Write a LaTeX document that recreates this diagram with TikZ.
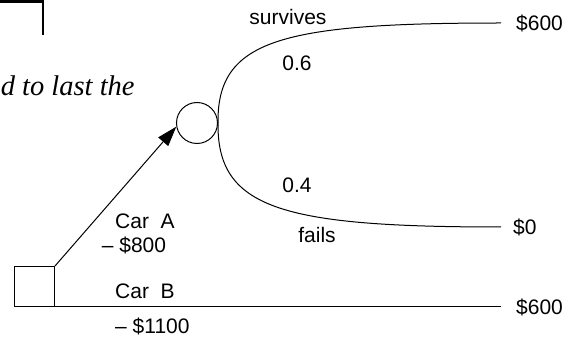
\documentclass[tikz,border=0pt]{standalone}
\usepackage{fontspec}
\setmainfont{Liberation Serif}
\newfontfamily\arialf{Liberation Sans}
\usetikzlibrary{arrows.meta}
\tikzset{
  lbl/.style={inner sep=0pt, font=\arialf\fontsize{21}{25}\selectfont},
  thin line/.style={line width=1pt},
  frame/.style={line width=2.7pt},
}
\begin{document}
\begin{tikzpicture}[x=1pt,y=-1pt]
\useasboundingbox (0,0) rectangle (574,339);
% cropped frame and text from the page
\draw[frame] (-3,1.3) -- (43,1.3) -- (43,35);
\node[inner sep=0pt, anchor=base west, font=\fontsize{28.5}{33}\selectfont\itshape] (txt) at (0.6,95.7) {d to last the};
% decision and chance nodes
\node[draw, thin line, minimum size=40pt, inner sep=0pt, anchor=south west] (sq) at (14,307) {};
\node[draw, thin line, circle, minimum size=41pt, inner sep=0pt] (c) at (197,123) {};
\coordinate (e1) at (501,23);
\coordinate (e2) at (501,227);
\coordinate (e3) at (501,307);
% connectors
\draw[thin line, -{Triangle[length=20pt,width=13pt]}] (sq.north east) -- (c.190);
\draw[thin line] (c.east) .. controls (217,40) and (280,23) .. (e1);
\draw[thin line] (c.east) .. controls (217,208) and (280,227) .. (e2);
\draw[thin line] (sq.south east) -- (e3);
% labels
\node[lbl, anchor=base] (ls) at (288,25) {survives};
\node[lbl, anchor=base] (lp6) at (297,70.7) {0.6};
\node[lbl, anchor=base] (lp4) at (297,192.7) {0.4};
\node[lbl, anchor=base] (lf) at (317,242.7) {fails};
\node[lbl, anchor=base west] (lca) at (115,228.3) {Car~~A};
\node[lbl, anchor=base west] (lcac) at (101.7,252.7) {– \$800};
\node[lbl, anchor=base west] (lcb) at (115,298.3) {Car~~B};
\node[lbl, anchor=base west] (lcbc) at (115,333.3) {– \$1100};
\node[lbl, anchor=base west] (v1) at (516,31) {\$600};
\node[lbl, anchor=base west] (v2) at (513,234.5) {\$0};
\node[lbl, anchor=base west] (v3) at (516,314.5) {\$600};
\end{tikzpicture}
\end{document}
